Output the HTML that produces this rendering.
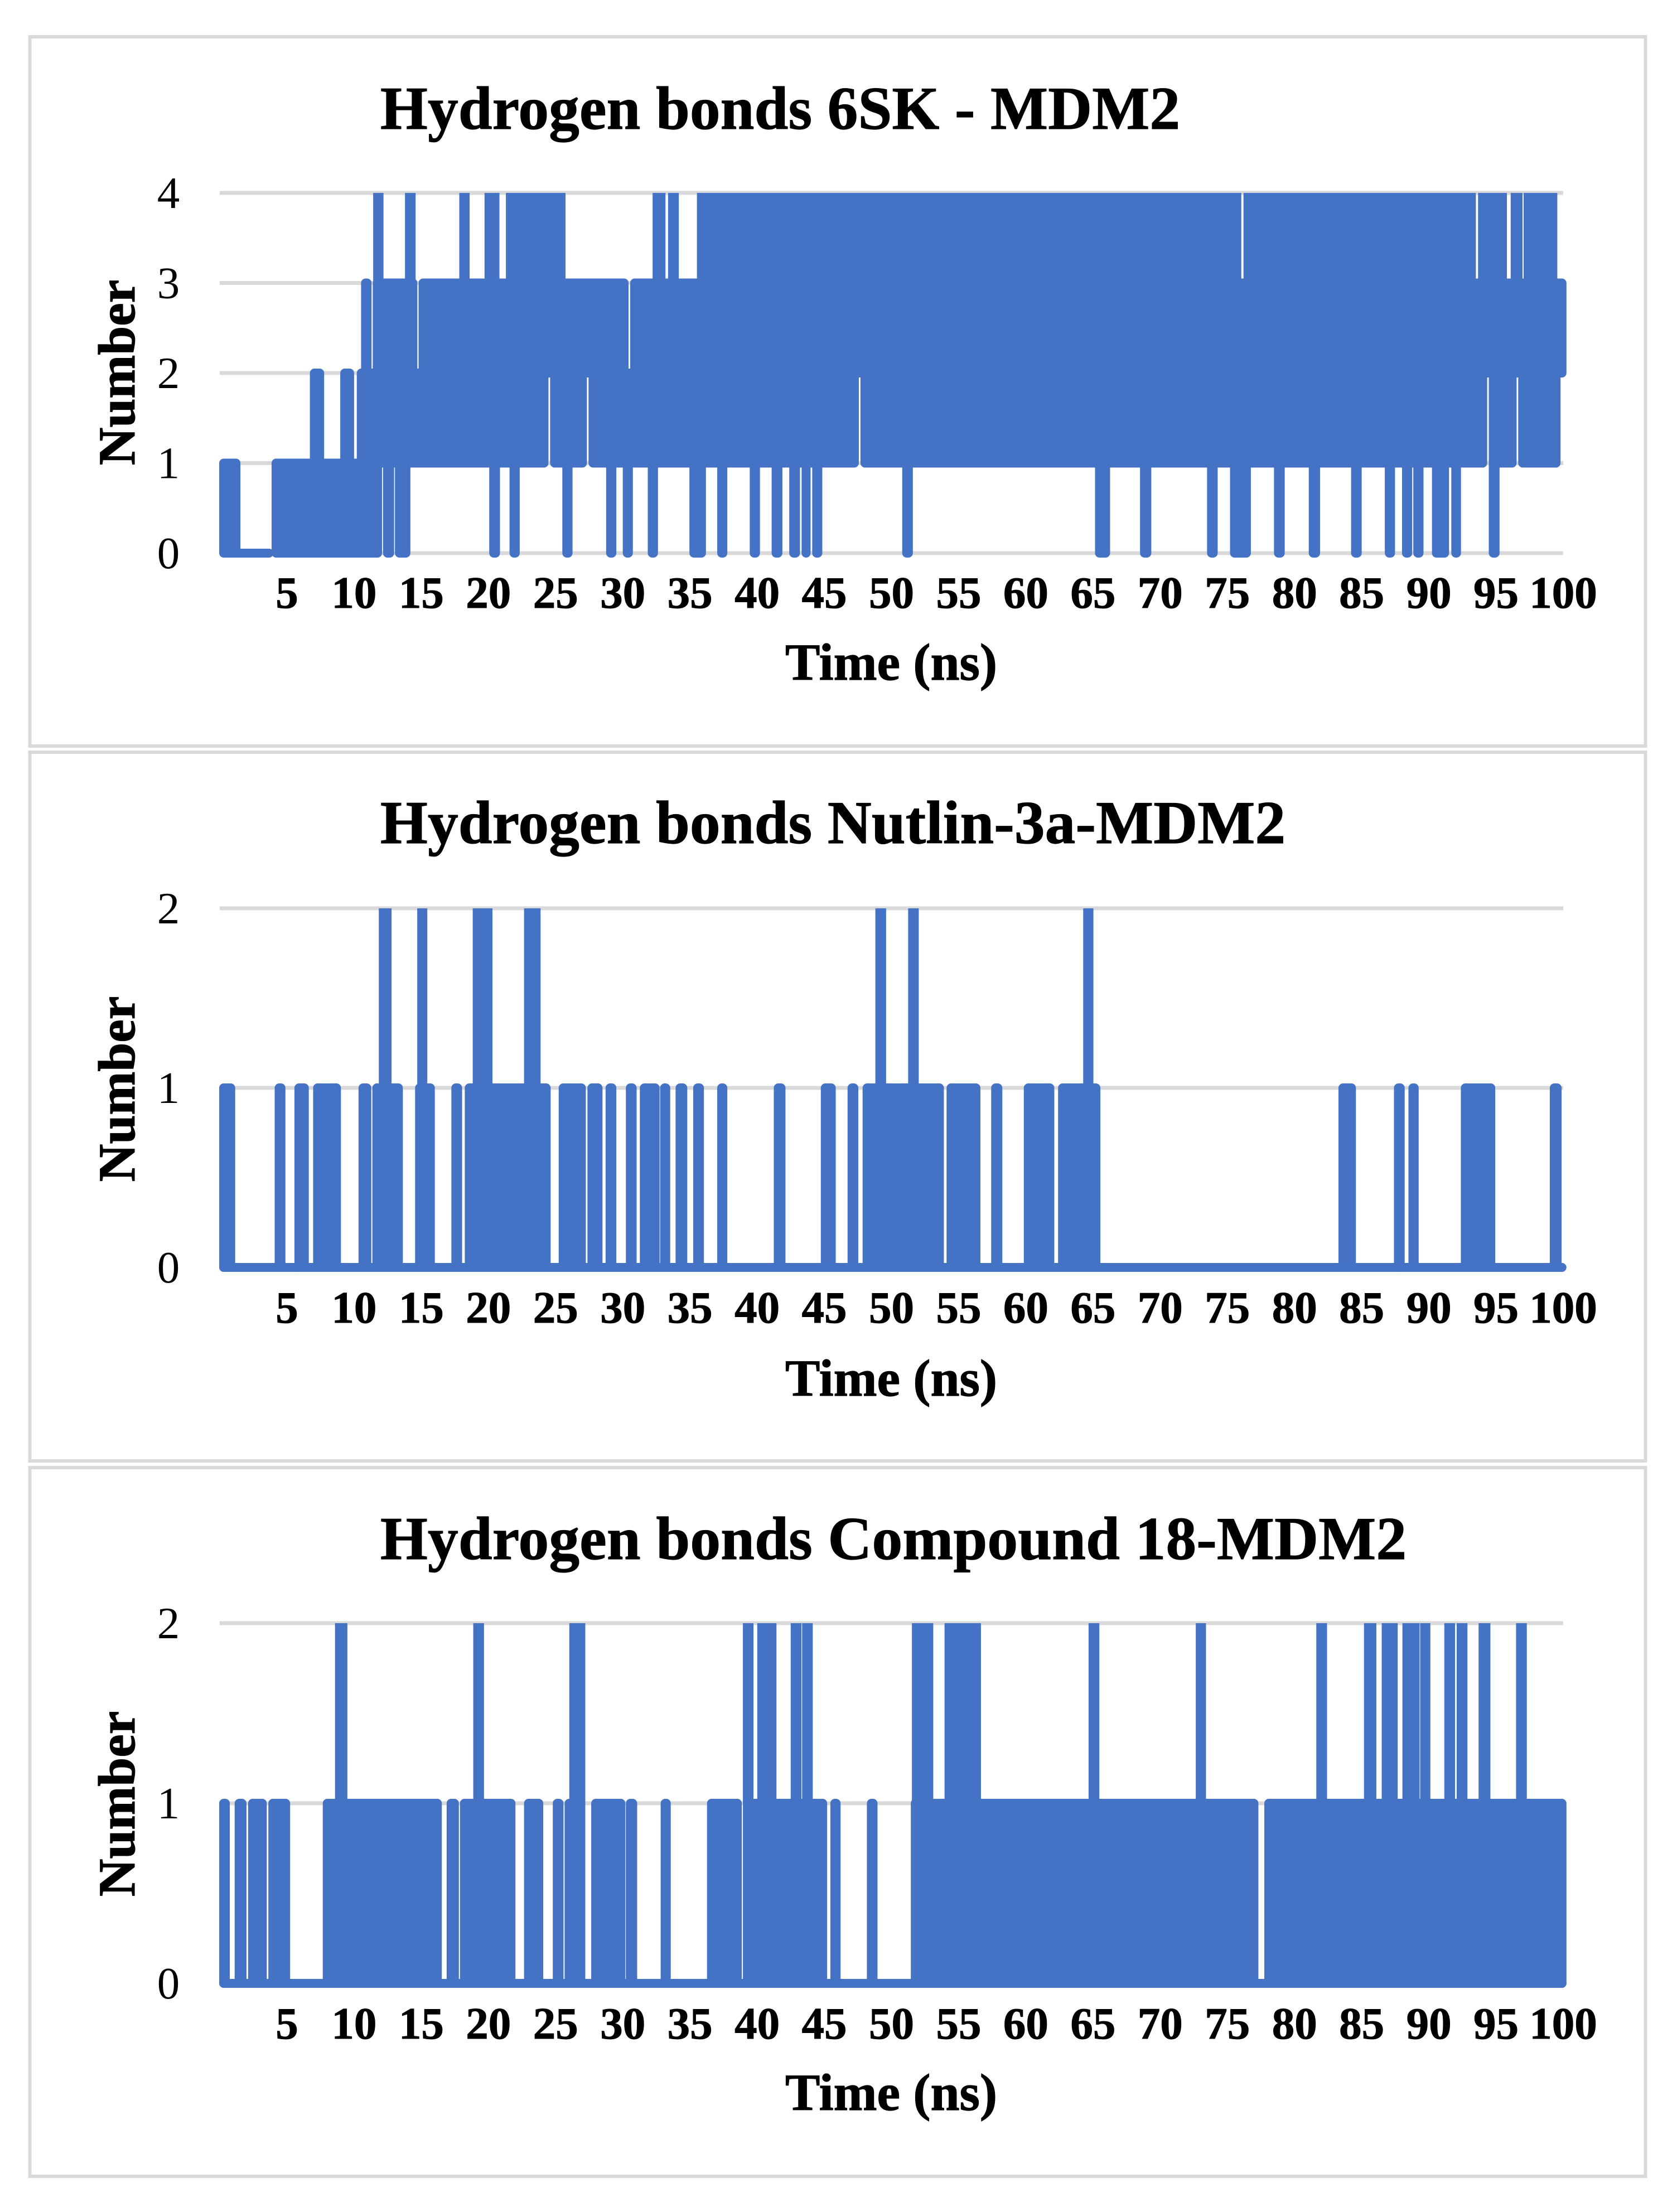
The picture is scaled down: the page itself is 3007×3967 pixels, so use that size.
<!DOCTYPE html>
<html lang="en">
<head>
<meta charset="utf-8">
<title>Hydrogen bonds charts</title>
<style>
html,body{margin:0;padding:0;background:#fff;}
svg{display:block;}
text{font-family:"Liberation Serif",serif;fill:#000;}
.chart-title{font-weight:bold;font-size:109px;stroke:#000;stroke-width:1.2px;}
.axis-title{font-weight:bold;font-size:93.5px;stroke:#000;stroke-width:1.2px;}
.x-tick{font-weight:bold;font-size:81px;text-anchor:middle;stroke:#000;stroke-width:1px;}
.y-tick{font-size:81px;text-anchor:middle;}
.frame{fill:#fff;stroke:#D9D9D9;stroke-width:6;}
</style>
</head>
<body>
<svg id="figure" xmlns="http://www.w3.org/2000/svg" width="3007" height="3967" viewBox="0 0 3007 3967">
  <rect width="3007" height="3967" fill="#fff"/>
  <rect class="frame" x="53.5" y="66" width="2897" height="1272"/>
  <rect class="frame" x="53.5" y="1349" width="2897" height="1271"/>
  <rect class="frame" x="53.5" y="2632" width="2897" height="1271"/>
  <defs>
    <clipPath id="clip-6sk"><rect x="0" y="346" width="3007" height="700"/></clipPath>
    <clipPath id="clip-nutlin"><rect x="0" y="1629" width="3007" height="700"/></clipPath>
    <clipPath id="clip-compound"><rect x="0" y="2911" width="3007" height="700"/></clipPath>
  </defs>

  <text class="chart-title" x="682" y="231" textLength="1434" lengthAdjust="spacing">Hydrogen bonds 6SK - MDM2</text>
  <text class="chart-title" x="682" y="1512" textLength="1623" lengthAdjust="spacing">Hydrogen bonds Nutlin-3a-MDM2</text>
  <text class="chart-title" x="682" y="2796" textLength="1840" lengthAdjust="spacing">Hydrogen bonds Compound 18-MDM2</text>

  <text class="axis-title" x="1598" y="1219" text-anchor="middle">Time (ns)</text>
  <text class="axis-title" x="1598" y="2503" text-anchor="middle">Time (ns)</text>
  <text class="axis-title" x="1598" y="3784" text-anchor="middle">Time (ns)</text>

  <text class="axis-title" transform="translate(241,668) rotate(-90)" text-anchor="middle">Number</text>
  <text class="axis-title" transform="translate(241,1953) rotate(-90)" text-anchor="middle">Number</text>
  <text class="axis-title" transform="translate(241,3235) rotate(-90)" text-anchor="middle">Number</text>
</svg>

<script>
// Shared tick labels
const xTickLabels = [5,10,15,20,25,30,35,40,45,50,55,60,65,70,75,80,85,90,95,100];
const yTicks6SK = [0,1,2,3,4];
const yTicksNutlin = [0,1,2];
const yTicksCompound = [0,1,2];

// 6SK - MDM2: time spans (ns) during which the count oscillates between two levels
const sk6From00 = [0];
const sk6To00 = [4];
const sk6From01 = [-0.04,3.86,12.15,13.04,20.06,21.57,25.5,28.76,30,31.86,34.96,37.03,39.45,41.08,42.39,43.31,44.1,50.8,65.15,68.5,73.49,75.2,78.47,81.06,84.21,86.72,88,88.84,90.23,91.67,94.46];
const sk6To01 = [1.54,12.08,12.98,14.19,20.86,22.33,26.26,29.52,30.75,32.62,36.19,37.78,40.21,41.88,43.19,43.98,44.85,51.59,66.27,69.34,74.28,76.75,79.27,81.9,85,87.48,88.76,89.6,91.5,92.39,95.26];
const sk6From12 = [6.71,8.97,10.2,24.59,27.45,47.69,94.46,96.65];
const sk6To12 = [7.77,10,24.47,27.33,47.57,94.34,96.53,99.8];
const sk6From23 = [10.52,11.39,14.8,30.55];
const sk6To23 = [11.3,14.71,30.43,100.24];
const sk6From34 = [11.42,13.79,17.83,19.71,21.3,32.22,33.37,35.52,76.2,93.66,96.09,97.05];
const sk6To34 = [12.19,14.58,18.6,20.82,25.74,33.18,34.17,76.04,93.5,95.81,96.97,99.56];

// Nutlin-3a - MDM2
const nutlinFrom00 = [-0.04];
const nutlinTo00 = [100.24];
const nutlinFrom01 = [-0.04,4.09,5.56,6.95,10.33,11.36,14.54,17.24,18.24,25.23,27.37,28.72,30.23,31.27,32.78,33.93,35.24,37.03,41.24,44.74,46.73,47.85,54.1,57.42,59.85,62.4,83.27,87.4,88.48,92.38,99];
const nutlinTo01 = [1.15,4.89,6.63,9.02,11.28,13.63,16.01,18.04,24.63,27.25,28.49,29.52,31.03,32.74,33.53,34.8,36.04,37.78,42.11,45.85,47.53,53.9,56.62,58.25,62.12,65.55,84.57,88.2,89.24,94.94,99.88];
const nutlinFrom12 = [11.84,14.7,18.83,22.65,48.8,51.24,64.27];
const nutlinTo12 = [12.79,15.45,20.3,23.88,49.6,52.03,65.03];

// Compound 18 - MDM2
const compoundFrom00 = [-0.04];
const compoundTo00 = [100.24];
const compoundFrom01 = [-0.04,1.11,2.11,3.62,7.67,16.89,17.88,22.65,24.79,25.67,27.65,30.23,32.82,36.27,38.94,45.45,48.17,51.44,77.75];
const compoundTo01 = [0.75,1.99,3.5,5.24,16.53,17.8,22.01,24.08,25.59,27.21,30.19,31.07,33.57,38.86,45.21,46.21,48.96,77.31,100.24];
const compoundFrom12 = [8.58,18.87,26.02,38.94,40.01,42.5,43.35,51.52,53.95,64.67,72.65,81.62,85.17,86.49,88.03,89.35,91.15,92.07,93.7,96.49];
const compoundTo12 = [9.5,19.67,27.21,39.73,41.44,43.3,44.14,53.11,56.66,65.47,73.41,82.42,86.09,87.68,89.31,90.11,91.95,92.87,94.58,97.29];

const SVG_NS = 'http://www.w3.org/2000/svg';
const svgRoot = document.getElementById('figure');
const PLOT_LEFT = 394;
const PLOT_RIGHT = 2803;
const STROKE = 16;

function xScale(t) {
  return PLOT_LEFT + t * (PLOT_RIGHT - PLOT_LEFT) / 100;
}

function makeYScale(yTop, yBottom, maxValue) {
  return function (v) {
    return yBottom - v * (yBottom - yTop) / maxValue;
  };
}

function drawGrid(ticks, yScale, tickLabelBaselineOffset) {
  ticks.forEach(function (v) {
    const line = document.createElementNS(SVG_NS, 'line');
    
    
    line.setAttribute('x1', PLOT_LEFT);
    line.setAttribute('x2', PLOT_RIGHT);
    line.setAttribute('y1', yScale(v));
    line.setAttribute('y2', yScale(v));
    line.setAttribute('stroke', '#D9D9D9');
    line.setAttribute('stroke-width', '7');
    svgRoot.appendChild(line);

    const label = document.createElementNS(SVG_NS, 'text');
    
    
    label.setAttribute('class', 'y-tick');
    label.setAttribute('x', '302');
    label.setAttribute('y', yScale(v) + tickLabelBaselineOffset);
    label.textContent = String(v);
    svgRoot.appendChild(label);
  });
}

function drawXTicks(baseline) {
  xTickLabels.forEach(function (t) {
    const label = document.createElementNS(SVG_NS, 'text');
    
    
    label.setAttribute('class', 'x-tick');
    label.setAttribute('x', xScale(t));
    label.setAttribute('y', baseline);
    label.textContent = String(t);
    svgRoot.appendChild(label);
  });
}

function makeSeriesGroup(clipId) {
  const g = document.createElementNS(SVG_NS, 'g');
  
  
  g.setAttribute('clip-path', 'url(#' + clipId + ')');
  g.setAttribute('fill', '#4472C4');
  g.setAttribute('stroke', '#4472C4');
  g.setAttribute('stroke-width', STROKE);
  g.setAttribute('stroke-linejoin', 'round');
  svgRoot.appendChild(g);
  return g;
}

// Each span is the outer extent of the thick line in ns; the stroke is inset so it lands on those edges.
function drawSpans(group, fromValues, toValues, low, high, yScale) {
  fromValues.forEach(function (from, i) {
    let x0 = xScale(from) + STROKE / 2;
    let x1 = xScale(toValues[i]) - STROKE / 2;
    if (x1 < x0) {
      const mid = (x0 + x1) / 2;
      x0 = mid;
      x1 = mid;
    }
    const yLow = yScale(low);
    const yHigh = yScale(high);
    const span = document.createElementNS(SVG_NS, 'path');
    
    
    span.setAttribute('d', 'M' + x0 + ' ' + yLow + 'H' + x1 + 'V' + yHigh + 'H' + x0 + 'Z');
    group.appendChild(span);
  });
}

const y6SK = makeYScale(346, 992, 4);
const yNutlin = makeYScale(1629, 2273, 2);
const yCompound = makeYScale(2911, 3557, 2);

drawGrid(yTicks6SK, y6SK, 27);
drawGrid(yTicksNutlin, yNutlin, 27);
drawGrid(yTicksCompound, yCompound, 27);

drawXTicks(1090);
drawXTicks(2372);
drawXTicks(3656);

const series6SK = makeSeriesGroup('clip-6sk');
drawSpans(series6SK, sk6From00, sk6To00, 0, 0, y6SK);
drawSpans(series6SK, sk6From01, sk6To01, 0, 1, y6SK);
drawSpans(series6SK, sk6From12, sk6To12, 1, 2, y6SK);
drawSpans(series6SK, sk6From23, sk6To23, 2, 3, y6SK);
drawSpans(series6SK, sk6From34, sk6To34, 3, 4, y6SK);

const seriesNutlin = makeSeriesGroup('clip-nutlin');
drawSpans(seriesNutlin, nutlinFrom00, nutlinTo00, 0, 0, yNutlin);
drawSpans(seriesNutlin, nutlinFrom01, nutlinTo01, 0, 1, yNutlin);
drawSpans(seriesNutlin, nutlinFrom12, nutlinTo12, 1, 2, yNutlin);

const seriesCompound = makeSeriesGroup('clip-compound');
drawSpans(seriesCompound, compoundFrom00, compoundTo00, 0, 0, yCompound);
drawSpans(seriesCompound, compoundFrom01, compoundTo01, 0, 1, yCompound);
drawSpans(seriesCompound, compoundFrom12, compoundTo12, 1, 2, yCompound);
</script>
</body>
</html>
